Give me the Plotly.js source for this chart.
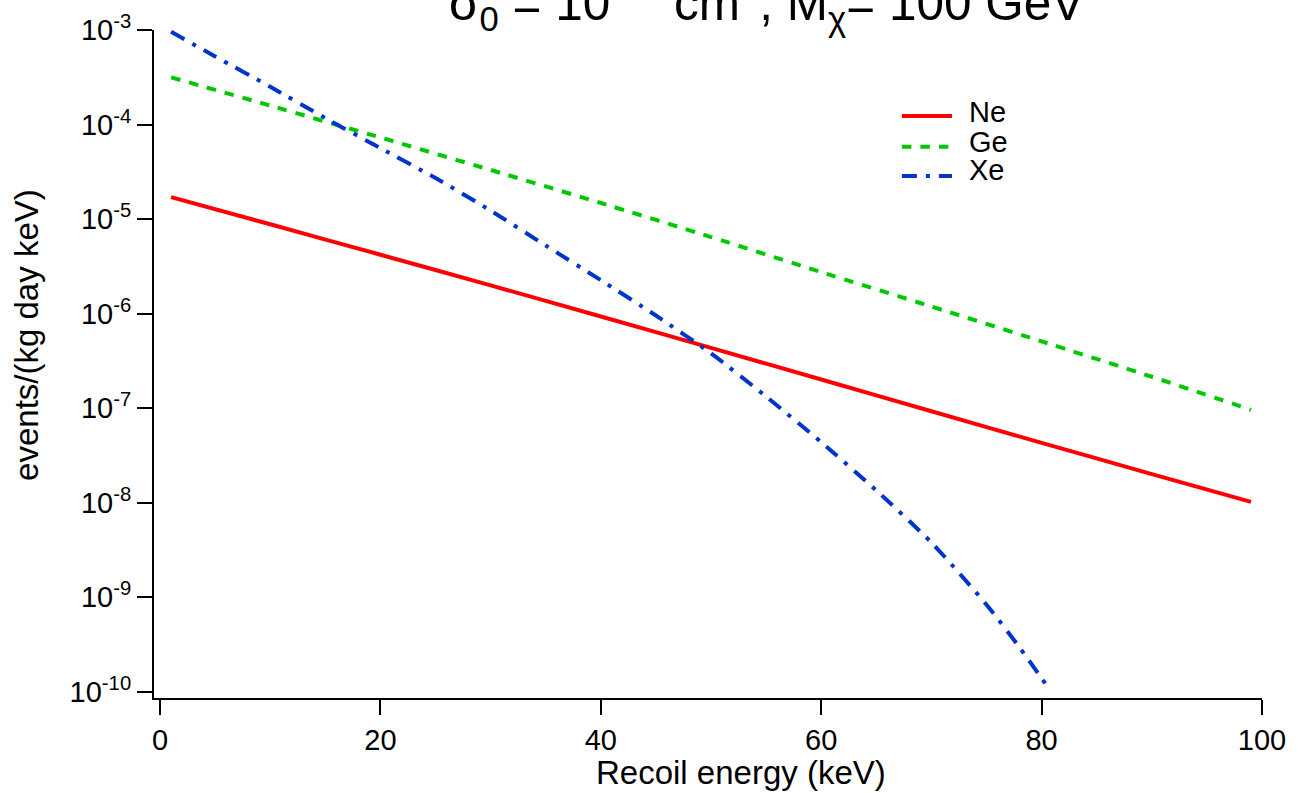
<!DOCTYPE html>
<html>
<head>
<meta charset="utf-8">
<script src="https://cdn.plot.ly/plotly-3.0.1.min.js"></script>
<style>
  html, body { margin: 0; padding: 0; background: #ffffff; }
  #chart { width: 1298px; height: 793px; }
</style>
</head>
<body>
<div id="chart"></div>
<script>
// ---- Data ----
const seriesNames = ["Ne", "Ge", "Xe"];
const seriesColors = ["#ff0000", "#00c800", "#0034cc"];
const seriesDash = ["solid", "9.5px,9px", "15px,9px,4px,9px"];

const energyNe = [1, 10, 20, 30, 40, 50, 60, 70, 80, 90, 99];
const rateNe = [1.71e-5, 8.81e-6, 4.20e-6, 1.99e-6, 9.33e-7, 4.35e-7, 2.01e-7, 9.29e-8, 4.30e-8, 2.01e-8, 1.02e-8];

const energyGe = [1, 10, 20, 30, 40, 50, 60, 70, 80, 90, 99];
const rateGe = [3.16e-4, 1.585e-4, 7.29e-5, 3.31e-5, 1.48e-5, 6.46e-6, 2.75e-6, 1.19e-6, 5.09e-7, 2.15e-7, 9.62e-8];

const energyXe = [1, 5, 10, 15, 20, 25, 30, 35, 40, 45, 50, 55, 60, 65, 70, 75, 78, 80.5];
const rateXe = [9.59e-4, 5.25e-4, 2.51e-4, 1.17e-4, 5.62e-5, 2.72e-5, 1.23e-5, 5.25e-6, 2.26e-6, 9.55e-7, 3.80e-7, 1.33e-7, 4.37e-8, 1.35e-8, 3.80e-9, 8.36e-10, 2.95e-10, 1.15e-10];

const xTickVals = [0, 20, 40, 60, 80, 100];
const yTickVals = [1e-3, 1e-4, 1e-5, 1e-6, 1e-7, 1e-8, 1e-9, 1e-10];
const yTickText = ["10<sup>-3</sup>", "10<sup>-4</sup>", "10<sup>-5</sup>", "10<sup>-6</sup>",
                   "10<sup>-7</sup>", "10<sup>-8</sup>", "10<sup>-9</sup>", "10<sup>-10</sup>"];

const titleText = "σ<sub>0</sub> = 10<sup>-44</sup> cm<sup>2</sup>, M<sub>χ</sub>= 100 GeV";
const xTitle = "Recoil energy (keV)";
const yTitle = "events/(kg day keV)";

// ---- Build traces ----
const xs = [energyNe, energyGe, energyXe];
const ys = [rateNe, rateGe, rateXe];
const traces = seriesNames.map((name, i) => ({
  type: "scatter",
  mode: "lines",
  name: name,
  x: xs[i],
  y: ys[i],
  showlegend: false,
  line: { color: seriesColors[i], width: 4, dash: seriesDash[i], shape: "spline", smoothing: 0.6 }
}));

const FONT = "Liberation Sans, Arial, Helvetica, sans-serif";

// manual legend (tight spacing like the reference)
const legLineY = [0.8713, 0.8254, 0.7815];
const legTextY = [0.8765, 0.8329, 0.7905];
const legendShapes = seriesNames.map((n, i) => ({
  type: "line", xref: "paper", yref: "paper",
  x0: 0.675, x1: 0.7202, y0: legLineY[i], y1: legLineY[i],
  line: { color: seriesColors[i], width: 4, dash: seriesDash[i] }
}));
const legendAnn = seriesNames.map((n, i) => ({
  xref: "paper", yref: "paper", x: 0.7338, y: legTextY[i],
  xanchor: "left", yanchor: "middle", showarrow: false,
  text: n, font: { family: FONT, size: 29, color: "#000" }
}));

const layout = {
  width: 1298, height: 793,
  paper_bgcolor: "#ffffff", plot_bgcolor: "#ffffff",
  margin: { l: 154, r: 36, t: 30, b: 95 },
  font: { family: FONT, color: "#000" },
  title: {
    text: titleText,
    font: { family: FONT, size: 49.5, color: "#000" },
    xref: "container", yref: "container",
    x: 0.5906, xanchor: "center",
    y: 0.9962, yanchor: "middle"
  },
  xaxis: {
    range: [-0.55, 100],
    showline: true, linecolor: "#000", linewidth: 2,
    ticks: "outside", ticklen: 15, tickwidth: 2, tickcolor: "#000",
    tickvals: xTickVals,
    showgrid: false, zeroline: false,
    tickfont: { family: FONT, size: 29, color: "#000" }
  },
  yaxis: {
    type: "log",
    range: [-10.065, -3],
    showline: true, linecolor: "#000", linewidth: 2,
    ticks: "outside", ticklen: 15, tickwidth: 2, tickcolor: "#000",
    tickvals: yTickVals, ticktext: yTickText,
    showgrid: false, zeroline: false,
    tickfont: { family: FONT, size: 29, color: "#000" }
  },
  shapes: legendShapes,
  annotations: [
    { xref: "paper", yref: "paper", x: 0.530, y: -0.1118, xanchor: "center", yanchor: "middle",
      showarrow: false, text: xTitle, font: { family: FONT, size: 33, color: "#000" } },
    { xref: "paper", yref: "paper", x: -0.1146, y: 0.5436, xanchor: "center", yanchor: "middle",
      showarrow: false, textangle: -90, text: yTitle, font: { family: FONT, size: 33, color: "#000" } }
  ].concat(legendAnn),
  showlegend: false
};

Plotly.newPlot("chart", traces, layout, { staticPlot: true, displayModeBar: false });
</script>
</body>
</html>
